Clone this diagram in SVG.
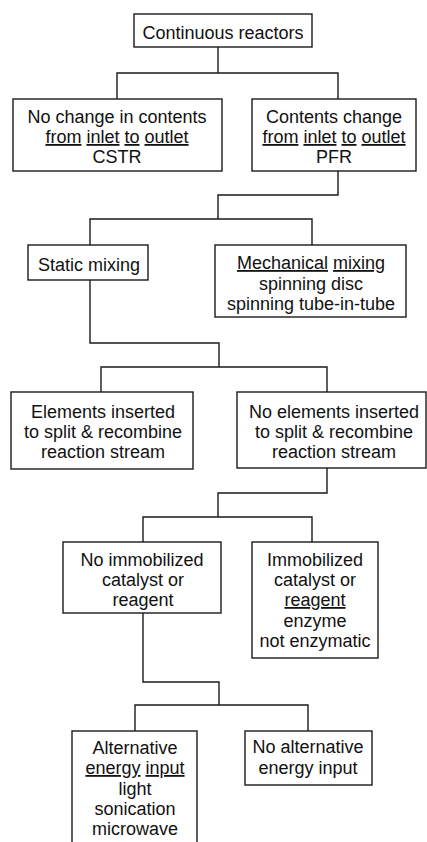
<svg xmlns="http://www.w3.org/2000/svg" width="427" height="842" viewBox="0 0 427 842">
<style>
  rect.box { fill: #fff; stroke: #1a1a1a; stroke-width: 1.4; }
  text { font-family: "Liberation Sans", Arial, sans-serif; font-size: 18px; fill: #111; text-anchor: middle; }
  .u { text-decoration: underline; }
  #connectors path { fill: none; stroke: #1a1a1a; stroke-width: 1.4; }
</style>
<rect width="427" height="842" fill="#fff"/>
<g id="connectors">
  <path d="M218,47 V73 M117,99 V73 H338 V99"/>
  <path d="M338,171 V195 H218 V219 M90,245 V219 H312 V245"/>
  <path d="M90,280 V343 H219 V367 M101,392 V367 H327 V392"/>
  <path d="M327,468 V493 H218 V517 M143,542 V517 H312 V542"/>
  <path d="M143,613 V682 H219 V705 M135,731 V705 H308 V731"/>
</g>
<g id="n-continuous">
  <rect class="box" x="134" y="14" width="178" height="33"/>
  <text x="223" y="39">Continuous reactors</text>
</g>
<g id="n-cstr">
  <rect class="box" x="13" y="99" width="209" height="72"/>
  <text x="117" y="123">No change in contents</text>
  <text x="117" y="143"><tspan class="u">from</tspan> <tspan class="u">inlet</tspan> <tspan class="u">to</tspan> <tspan class="u">outlet</tspan></text>
  <text x="117" y="163">CSTR</text>
</g>
<g id="n-pfr">
  <rect class="box" x="252" y="99" width="164" height="72"/>
  <text x="334" y="123">Contents change</text>
  <text x="334" y="143"><tspan class="u">from</tspan> <tspan class="u">inlet</tspan> <tspan class="u">to</tspan> <tspan class="u">outlet</tspan></text>
  <text x="334" y="163">PFR</text>
</g>
<g id="n-static">
  <rect class="box" x="28" y="245" width="120" height="35"/>
  <text x="89" y="271">Static mixing</text>
</g>
<g id="n-mechanical">
  <rect class="box" x="215" y="245" width="191" height="72"/>
  <text x="311" y="269"><tspan class="u">Mechanical</tspan> <tspan class="u">mixing</tspan></text>
  <text x="311" y="290">spinning disc</text>
  <text x="311" y="310">spinning tube-in-tube</text>
</g>
<g id="n-elements">
  <rect class="box" x="11" y="392" width="182" height="77"/>
  <text x="103" y="418">Elements inserted</text>
  <text x="103" y="438">to split &amp; recombine</text>
  <text x="103" y="458">reaction stream</text>
</g>
<g id="n-noelements">
  <rect class="box" x="237" y="392" width="189" height="76"/>
  <text x="334" y="418">No elements inserted</text>
  <text x="334" y="438">to split &amp; recombine</text>
  <text x="334" y="458">reaction stream</text>
</g>
<g id="n-noimmob">
  <rect class="box" x="63" y="542" width="158" height="71"/>
  <text x="142" y="566">No immobilized</text>
  <text x="143" y="586">catalyst or</text>
  <text x="143" y="606">reagent</text>
</g>
<g id="n-immob">
  <rect class="box" x="252" y="542" width="126" height="116"/>
  <text x="315" y="566">Immobilized</text>
  <text x="315" y="586">catalyst or</text>
  <text x="315" y="606"><tspan class="u">reagent</tspan></text>
  <text x="315" y="627">enzyme</text>
  <text x="315" y="647">not enzymatic</text>
</g>
<g id="n-alt">
  <rect class="box" x="72" y="731" width="125" height="125"/>
  <text x="135" y="754">Alternative</text>
  <text x="135" y="774"><tspan class="u">energy</tspan> <tspan class="u">input</tspan></text>
  <text x="135" y="795">light</text>
  <text x="135" y="815">sonication</text>
  <text x="135" y="835">microwave</text>
</g>
<g id="n-noalt">
  <rect class="box" x="245" y="731" width="127" height="54"/>
  <text x="308" y="753">No alternative</text>
  <text x="308" y="774">energy input</text>
</g>
</svg>
